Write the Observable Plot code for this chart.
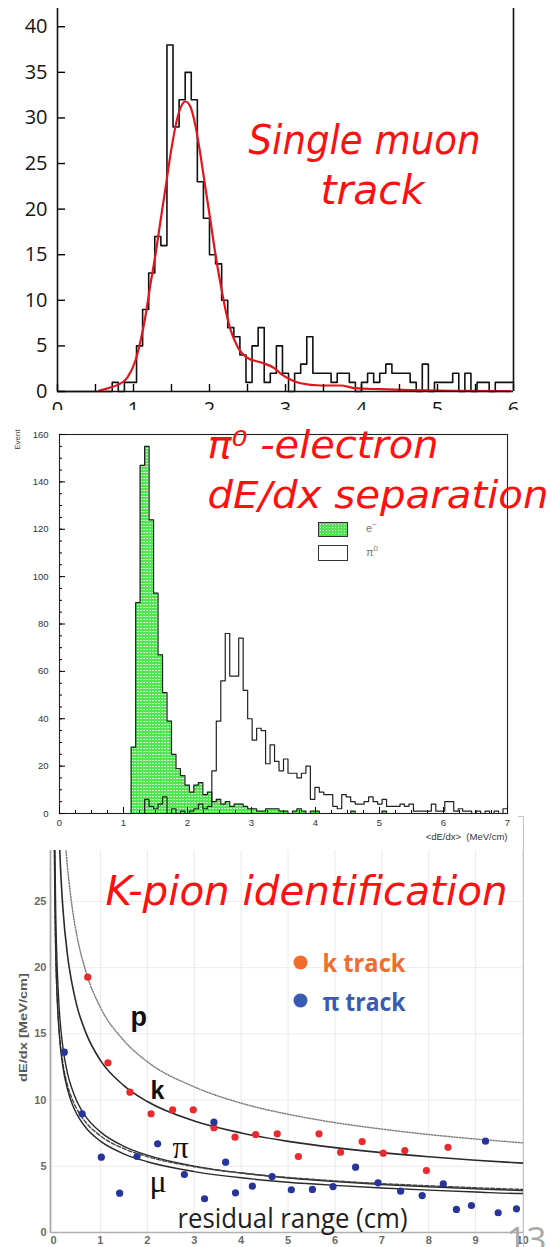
<!DOCTYPE html>
<html><head><meta charset="utf-8">
<script src="https://cdn.jsdelivr.net/npm/d3@7"></script>
<script src="https://cdn.jsdelivr.net/npm/@observablehq/plot@0.6"></script>
<style>
html,body{margin:0;padding:0;background:#fff;}
#wrap{position:relative;width:551px;height:1247px;overflow:hidden;background:#fff;}
#wrap svg{position:absolute;left:0;overflow:hidden;}
.lg{position:absolute;font-family:"Liberation Sans",sans-serif;}
</style></head><body><div id="wrap"></div>
<script>
// ---------------- Panel 1: single muon track ----------------
const muonBinWidth = 0.08;
const muonCounts = [0,0,0,0,0,0,0,0,0,1, 0,1,1,5,9,13,17,16,38,29, 32,35,32,23,19,15,14,10,7,6, 4,1,5,7,1,2,5,2,0,2, 3,6,2,2,2,1,2,2,1,0, 1,2,1,2,3,2,2,2,1,0, 3,0,1,1,1,2,0,2,0,1, 1,0,1,1,1];
const muonFitX = [0.55,0.68,0.785,0.917,1.026,1.092,1.158,1.224,1.289,1.355,1.421,1.487,1.553,1.618,1.684,1.75,1.816,1.88,1.947,2.013,2.079,2.145,2.21,2.276,2.364,2.496,2.67,2.846,2.93,3.07,3.2,3.46,3.72,3.92,4.25,4.64,5.21,5.96];
const muonFitY = [0.1,0.4,0.7,1.5,3.4,5.5,8.3,11.8,15.0,18.7,22.3,26.0,29.1,31.1,31.8,31.2,29.1,26.0,22.3,18.7,15.0,11.8,9.0,6.8,5.0,3.7,3.2,2.6,2.0,1.3,0.9,0.66,0.66,0.36,0.25,0.15,0.07,0.04];
const muonYTicks = [0,5,10,15,20,25,30,35,40];
const muonXLabels = [0,1,2,3,4,5,6];
const muonXTickMarks = [0,0.5,1,1.5,2,2.5,3,3.5,4,4.5,5,5.5,6];

// ---------------- Panel 2: pi0 / electron dE/dx ----------------
const dedxBinWidth = 0.07;
const electronCounts = [0,0,0,0,0,0,0,0,0,0, 0,0,0,0,0,0,28,89,147,155, 124,93,67,51,39,25,19,16,12,9, 12,13,8,9,5,6,4,5,3,4, 4,3,2,2,1,1,2,2,2,1, 1,0,1,2,1,0,1,1,0,0, 0,0,0,0,0,1,0,0,0,0, 0,0,1,0,0,0,0,0,0,0, 0,0,0,0,0,0,0,0,0,0, 0,0,0,0,0,0,0,0,0,0];
const pi0Counts = [0,0,0,0,0,0,0,0,0,0, 0,0,0,0,0,0,0,0,0,6, 3,2,4,7,0,2,0,1,0,1, 2,4,2,3,18,39,56,76,58,58, 74,52,40,31,36,35,21,29,22,18, 23,17,17,15,17,20,6,11,9,8, 8,3,2,8,7,5,4,4,5,7, 5,4,6,3,3,3,4,3,4,1, 1,1,1,4,1,1,5,5,1,2, 1,1,0,1,0,1,0,1,0,2];
const eventYLabels = [0,20,40,60,80,100,120,140,160];
const dedxXLabels = [0,1,2,3,4,5,6,7];

// ---------------- Panel 3: K / pion identification ----------------
const kTrackX = [0.73,1.16,1.63,2.08,2.54,2.98,3.42,3.87,4.31,4.77,5.22,5.66,6.12,6.58,7.03,7.49,7.95,8.41];
const kTrackY = [19.28,12.82,10.60,8.97,9.27,9.27,7.91,7.20,7.40,7.45,5.74,7.45,6.06,6.87,5.99,6.19,4.68,6.44];
const piTrackX = [0.23,0.61,1.02,1.41,1.78,2.22,2.79,3.22,3.42,3.67,3.88,4.24,4.66,5.07,5.52,5.96,6.44,6.92,7.40,7.86,8.31,8.59,8.91,9.21,9.48,9.87];
const piTrackY = [13.62,8.97,5.69,2.97,5.74,6.70,4.38,2.55,8.33,5.31,3.00,3.50,4.23,3.23,3.25,3.47,4.93,3.75,3.12,2.79,3.68,1.74,2.04,6.90,1.49,1.79];
const protonCurve = [[0.25,29.6],[0.3,27.5],[0.35,25.9],[0.4,24.5],[0.5,22.4],[0.7,19.6],[1,17.0],[1.5,14.5],[2,12.9],[3,11.0],[4,9.77],[5,8.93],[6,8.30],[7,7.81],[8,7.40],[9,7.06],[10,6.77],[10.1,6.74]];
const kaonCurve = [[0.12,30.0],[0.15,27.5],[0.2,24.5],[0.3,20.9],[0.4,18.7],[0.5,17.1],[0.7,15.0],[1,13.0],[1.5,11.1],[2,9.89],[3,8.42],[4,7.52],[5,6.88],[6,6.41],[7,6.03],[8,5.72],[9,5.46],[10,5.24],[10.1,5.22]];
const pionCurve = [[0.02,33.6],[0.03,28.8],[0.05,23.7],[0.08,19.9],[0.12,17.0],[0.2,14.0],[0.3,12.0],[0.4,10.8],[0.5,9.89],[0.7,8.70],[1,7.6],[1.5,6.51],[2,5.84],[3,5.01],[4,4.49],[5,4.12],[6,3.85],[7,3.63],[8,3.45],[9,3.30],[10,3.17],[10.1,3.16]];
const pionDashedCurve = [[0.015,31.7],[0.02,28.7],[0.03,24.9],[0.05,20.8],[0.08,17.7],[0.12,15.3],[0.2,12.8],[0.3,11.1],[0.4,10.06],[0.5,9.30],[0.7,8.27],[1,7.3],[1.5,6.33],[2,5.73],[3,4.97],[4,4.49],[5,4.16],[6,3.90],[7,3.69],[8,3.53],[9,3.38],[10,3.26],[10.1,3.25]];
const muonCurve = [[0.015,32.6],[0.02,29.3],[0.03,25.3],[0.05,20.9],[0.08,17.6],[0.12,15.1],[0.2,12.5],[0.3,10.8],[0.4,9.68],[0.5,8.92],[0.7,7.87],[1,6.9],[1.5,5.94],[2,5.34],[3,4.60],[4,4.13],[5,3.80],[6,3.56],[7,3.36],[8,3.20],[9,3.06],[10,2.94],[10.1,2.94]];
const rangeYLabels = [0,5,10,15,20,25];
const rangeXLabels = [0,1,2,3,4,5,6,7,8,9,10];

// ---------------- helpers ----------------
const wrap = document.getElementById("wrap");
function place(svg, top) { svg.style.top = top + "px"; wrap.appendChild(svg); }
function fitText(svg, content, len) {
  d3.select(svg).selectAll("text").filter(function() { return this.textContent === content; })
    .attr("textLength", len).attr("lengthAdjust", "spacingAndGlyphs");
}
function steps(counts, width) {
  const pts = counts.map((c, i) => ({x: i * width, y: c}));
  pts.push({x: counts.length * width, y: counts[counts.length - 1]});
  return pts;
}
const titleFont = {fontFamily: "DejaVu Sans", fontStyle: "italic", fill: "#ff0f0f", lineAnchor: "bottom"};

// ---------------- Panel 1 ----------------
const muonSteps = steps(muonCounts, muonBinWidth);
const muonFit = muonFitX.map((x, i) => ({x, y: muonFitY[i]}));
const p1 = Plot.plot({
  width: 551, height: 410, marginTop: 8, marginBottom: 19, marginLeft: 57, marginRight: 38,
  x: {domain: [0, 6], axis: null}, y: {domain: [0, 42], axis: null},
  style: {background: "transparent", overflow: "hidden"},
  marks: [
    Plot.line(muonSteps, {x: "x", y: "y", curve: "step-after", stroke: "#111", strokeWidth: 1.6}),
    Plot.line(muonFit, {x: "x", y: "y", curve: "monotone-x", stroke: "#e3141c", strokeWidth: 2.2}),
    Plot.ruleX([0, 6], {stroke: "#111", strokeWidth: 1.6}),
    Plot.ruleY([0], {stroke: "#111", strokeWidth: 1.6}),
    Plot.axisY(muonYTicks, {label: null, tickSize: -8, strokeWidth: 1.4, tickFormat: () => ""}),
    Plot.axisX(muonXTickMarks, {label: null, tickSize: -7, strokeWidth: 1.4, tickFormat: () => ""}),
    Plot.axisY(muonYTicks, {label: null, tickSize: 0, tickPadding: 10, fontSize: 20, fontFamily: "Open Sans", fill: "#151515"}),
    Plot.axisX(muonXLabels, {label: null, tickSize: 0, tickPadding: 10, fontSize: 20, fontFamily: "Open Sans", fill: "#151515"}),
    Plot.text(["Single muon"], {text: d => d, frameAnchor: "top-left", dx: 307, dy: 145, textAnchor: "middle", fontSize: 40, ...titleFont}),
    Plot.text(["track"], {text: d => d, frameAnchor: "top-left", dx: 315, dy: 195, textAnchor: "middle", fontSize: 40, ...titleFont})
  ]
});
fitText(p1, "Single muon", 232); fitText(p1, "track", 104);
place(p1, 0);

// ---------------- Panel 2 ----------------
const eSteps = steps(electronCounts, dedxBinWidth);
const piSteps = steps(pi0Counts, dedxBinWidth);
const smallFont = {fontFamily: "Liberation Sans", fontSize: 9.5, fill: "#333"};
const p2 = Plot.plot({
  width: 551, height: 437, marginTop: 26, marginBottom: 32, marginLeft: 59, marginRight: 44,
  x: {domain: [0, 7], axis: null}, y: {domain: [0, 160], axis: null},
  style: {background: "transparent", overflow: "hidden"},
  marks: [
    Plot.areaY(eSteps, {x: "x", y: "y", curve: "step-after", fill: "url(#greenDots)"}),
    Plot.line(eSteps, {x: "x", y: "y", curve: "step-after", stroke: "#222", strokeWidth: 1.2}),
    Plot.line(piSteps, {x: "x", y: "y", curve: "step-after", stroke: "#222", strokeWidth: 1.2}),
    Plot.frame({stroke: "#222", strokeWidth: 1.1}),
    Plot.axisY(eventYLabels, {label: null, tickSize: -6, tickFormat: () => ""}),
    Plot.axisY(d3.range(5, 160, 5), {label: null, tickSize: -3, tickFormat: () => ""}),
    Plot.axisX(dedxXLabels, {label: null, tickSize: -6, tickFormat: () => ""}),
    Plot.axisX(d3.range(0.25, 7, 0.25), {label: null, tickSize: -3, tickFormat: () => ""}),
    Plot.axisY(eventYLabels, {label: null, tickSize: 0, tickPadding: 11, ...smallFont}),
    Plot.axisX(dedxXLabels, {label: null, tickSize: 0, tickPadding: 6, ...smallFont}),
    Plot.text(["<dE/dx>  (MeV/cm)"], {text: d => d, frameAnchor: "bottom-right", dy: 26, textAnchor: "end", lineAnchor: "bottom", ...smallFont}),
    Plot.text(["Event"], {text: d => d, frameAnchor: "top-left", dx: -45, dy: 5, rotate: -90, textAnchor: "middle", fontFamily: "Liberation Sans", fontSize: 8, fill: "#444"}),
    Plot.text(["π⁰ -electron"], {text: d => d, frameAnchor: "top-left", dx: 148, dy: 23, textAnchor: "start", fontSize: 37, ...titleFont}),
    Plot.text(["dE/dx separation"], {text: d => d, frameAnchor: "top-left", dx: 148, dy: 73, textAnchor: "start", fontSize: 37, ...titleFont})
  ]
});
{
  const defs = d3.select(p2).insert("defs", ":first-child");
  const pat = defs.append("pattern").attr("id", "greenDots").attr("width", 3).attr("height", 3).attr("patternUnits", "userSpaceOnUse");
  pat.append("rect").attr("width", 3).attr("height", 3).attr("fill", "#52e552");
  pat.append("rect").attr("x", 0).attr("y", 1).attr("width", 1).attr("height", 1).attr("fill", "#dcffdc");
  pat.append("rect").attr("x", 2).attr("y", 1).attr("width", 1).attr("height", 1).attr("fill", "#b8f7b8");
}
fitText(p2, "π⁰ -electron", 231); fitText(p2, "dE/dx separation", 341);
place(p2, 408);

// ---------------- Panel 3 ----------------
const rangeDomain = [-0.064, 10.02];
const kPts = kTrackX.map((x, i) => ({x, y: kTrackY[i]}));
const piPts = piTrackX.map((x, i) => ({x, y: piTrackY[i]}));
const curveOpts = {x: d => d[0], y: d => d[1], curve: "monotone-x", clip: true};
const boldGray = {fontFamily: "Liberation Sans", fontWeight: "bold", fontSize: 11, fill: "#6a6a6a"};
const p3 = Plot.plot({
  width: 551, height: 432, marginTop: 35, marginBottom: 15, marginLeft: 50, marginRight: 28,
  x: {domain: rangeDomain, axis: null}, y: {domain: [0, 28.85], axis: null},
  style: {background: "transparent", overflow: "hidden"},
  marks: [
    Plot.gridX(d3.range(1, 11), {stroke: "#e9e9e9", strokeOpacity: 1}),
    Plot.gridY([5, 10, 15, 20, 25], {stroke: "#ececec", strokeOpacity: 1}),
    Plot.ruleX([rangeDomain[0]], {stroke: "#a8a8a8", strokeWidth: 1.8}),
    Plot.ruleY([0], {stroke: "#b0b0b0", strokeWidth: 1.5}),
    Plot.line(protonCurve, {...curveOpts, stroke: "#808080", strokeWidth: 1.5, strokeDasharray: "1.2,1.6"}),
    Plot.line(kaonCurve, {...curveOpts, stroke: "#2a2a2a", strokeWidth: 1.6}),
    Plot.line(pionCurve, {...curveOpts, stroke: "#2a2a2a", strokeWidth: 1.4}),
    Plot.line(pionDashedCurve, {...curveOpts, stroke: "#444", strokeWidth: 1.4, strokeDasharray: "4,2"}),
    Plot.line(muonCurve, {...curveOpts, stroke: "#2a2a2a", strokeWidth: 1.4}),
    Plot.dot(kPts, {x: "x", y: "y", r: 3.6, fill: "#ea2a2f"}),
    Plot.dot(piPts, {x: "x", y: "y", r: 3.6, fill: "#27349a"}),
    Plot.axisY(rangeYLabels, {label: null, tickSize: 0, tickPadding: 4, ...boldGray}),
    Plot.axisX(rangeXLabels, {label: null, tickSize: 0, tickPadding: 4, ...boldGray}),
    Plot.text(["dE/dx [MeV/cm]"], {text: d => d, frameAnchor: "top-left", dx: -27, dy: 177, rotate: -90, textAnchor: "middle", lineAnchor: "middle", fontFamily: "Liberation Sans", fontWeight: "bold", fontSize: 11, fill: "#5a5a5a"}),
    Plot.text(["K-pion identification"], {text: d => d, frameAnchor: "top-left", dx: 55, dy: 54, textAnchor: "start", fontSize: 40, ...titleFont}),
    Plot.text(["p"], {text: d => d, frameAnchor: "top-left", dx: 80, dy: 175, textAnchor: "start", lineAnchor: "bottom", fontFamily: "Liberation Sans", fontWeight: "bold", fontSize: 27, fill: "#111"}),
    Plot.text(["k"], {text: d => d, frameAnchor: "top-left", dx: 100, dy: 248, textAnchor: "start", lineAnchor: "bottom", fontFamily: "Liberation Sans", fontWeight: "bold", fontSize: 25, fill: "#111"}),
    Plot.text(["π"], {text: d => d, frameAnchor: "top-left", dx: 122, dy: 307, textAnchor: "start", lineAnchor: "bottom", fontFamily: "Liberation Serif", fontSize: 32, fill: "#111"}),
    Plot.text(["μ"], {text: d => d, frameAnchor: "top-left", dx: 99, dy: 341, textAnchor: "start", lineAnchor: "bottom", fontFamily: "Liberation Serif", fontSize: 32, fill: "#111"}),
    Plot.text(["residual range (cm)"], {text: d => d, frameAnchor: "top-left", dx: 127, dy: 377, textAnchor: "start", lineAnchor: "bottom", fontFamily: "Open Sans", fontSize: 27, fill: "#1e1e1e"}),
    Plot.dot([0], {frameAnchor: "top-left", dx: 250, dy: 112, r: 7, fill: "#f26c2c"}),
    Plot.text(["k track"], {text: d => d, frameAnchor: "top-left", dx: 272, dy: 121, textAnchor: "start", lineAnchor: "bottom", fontFamily: "Open Sans", fontWeight: "bold", fontSize: 25, fill: "#f26c2c"}),
    Plot.dot([0], {frameAnchor: "top-left", dx: 250, dy: 150, r: 7, fill: "#3b5bb2"}),
    Plot.text(["π track"], {text: d => d, frameAnchor: "top-left", dx: 272, dy: 160, textAnchor: "start", lineAnchor: "bottom", fontFamily: "Open Sans", fontWeight: "bold", fontSize: 25, fill: "#3b5bb2"}),
    Plot.text(["13"], {text: d => d, frameAnchor: "top-left", dx: 456, dy: 401, textAnchor: "start", lineAnchor: "bottom", fontFamily: "Open Sans", fontSize: 35, fill: "#a8a8a8"})
  ]
});
fitText(p3, "K-pion identification", 402); fitText(p3, "residual range (cm)", 230);
fitText(p3, "k track", 83); fitText(p3, "π track", 83); fitText(p3, "dE/dx [MeV/cm]", 109);
place(p3, 815);

// ---------------- HTML overlays: panel 2 legend, panel 3 border ----------------
function div(css, html) { const d = document.createElement("div"); d.className = "lg"; d.style.cssText = css; if (html) d.innerHTML = html; wrap.appendChild(d); return d; }
div("left:318px;top:522px;width:28px;height:13px;border:1px solid #333;background-color:#52e552;background-image:radial-gradient(#e4ffe4 0.6px, transparent 0.8px);background-size:3px 3px;");
div("left:366px;top:520px;font-size:11px;color:#777;", "e<sup style='font-size:8px'>−</sup>");
div("left:318px;top:545px;width:28px;height:14px;border:1px solid #333;background:#fff;");
div("left:366px;top:544px;font-size:11px;color:#777;", "π<sup style='font-size:8px'>0</sup>");
div("left:523px;top:816px;width:0;height:431px;border-left:1px solid #c4c4c4;");
div("left:518px;top:816px;width:5px;height:0;border-top:1px solid #c4c4c4;");
</script></body></html>
